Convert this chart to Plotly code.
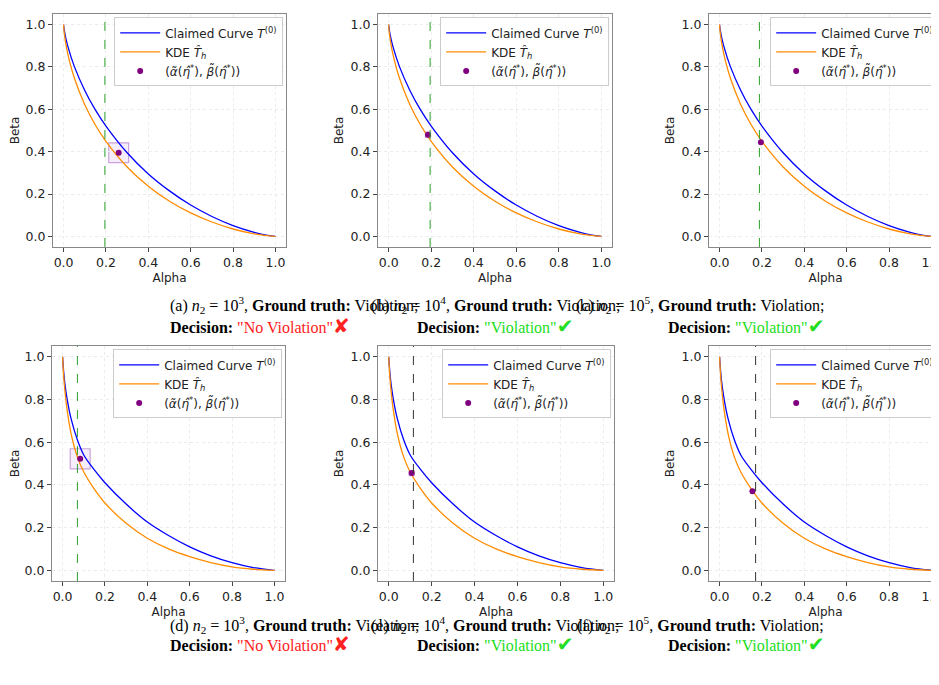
import plotly.graph_objects as go

W, H = 939, 685

# Curves (top row: panels a-c, bottom row: panels d-f)
alpha_top = [0, 0.001, 0.005, 0.01, 0.02, 0.05, 0.1, 0.15, 0.2, 0.3, 0.4, 0.5, 0.6, 0.7, 0.8, 0.9, 0.95, 1.0]
claimed_top = [1.0, 0.989, 0.963, 0.938, 0.897, 0.804, 0.689, 0.597, 0.521, 0.395, 0.295, 0.215, 0.148, 0.094, 0.051, 0.019, 0.007, 0.0]
kde_top = [1.0, 0.983, 0.946, 0.912, 0.861, 0.750, 0.622, 0.526, 0.449, 0.328, 0.237, 0.166, 0.111, 0.068, 0.035, 0.012, 0.0045, 0.0]

alpha_bot = [0, 0.005, 0.01, 0.02, 0.04, 0.07, 0.1, 0.15, 0.2, 0.3, 0.4, 0.5, 0.6, 0.7, 0.8, 0.9, 1.0]
claimed_bot = [1.0, 0.93, 0.88, 0.81, 0.71, 0.61, 0.54, 0.47, 0.41, 0.31, 0.226, 0.163, 0.11, 0.068, 0.036, 0.013, 0.0]
kde_bot = [1.0, 0.91, 0.85, 0.76, 0.64, 0.53, 0.46, 0.38, 0.315, 0.22, 0.15, 0.10, 0.064, 0.036, 0.016, 0.005, 0.0]

panels = ["a", "b", "c", "d", "e", "f"]
point_alpha = [0.26, 0.185, 0.195, 0.083, 0.107, 0.155]
point_beta = [0.395, 0.48, 0.445, 0.522, 0.455, 0.37]
eta_line = [0.195, 0.195, 0.188, 0.07, 0.115, 0.17]
line_colors = ["#2ca02c", "#2ca02c", "#2ca02c", "#2ca02c", "#333333", "#333333"]
box_half = [0.047, 0.012, 0.0, 0.047, 0.012, 0.0]
n2_exp = ["3", "4", "5", "3", "4", "5"]
decisions = ["No Violation", "Violation", "Violation", "No Violation", "Violation", "Violation"]
correct = [False, True, True, False, True, True]

# panel pixel boxes: (left, right, top, bottom)
boxes = [(45, 278, 6, 239), (370, 604, 6, 239), (701, 934, 6, 239),
         (44, 277, 338, 573), (370, 606, 338, 573), (701, 934, 338, 573)]
cap_x = [160, 487, 818, 160, 487, 818]
cap_y = [[297, 318], [297, 318], [297, 318], [630, 650], [630, 650], [630, 650]]

fig = go.Figure()
txt_font = dict(family="DejaVu Sans", size=12, color="#222")
serif = dict(family="Liberation Serif", size=16, color="black")

for i, p in enumerate(panels):
    sfx = "" if i == 0 else str(i + 1)
    xa, ya, lg = "x" + sfx, "y" + sfx, "legend" + sfx
    al = alpha_top if i < 3 else alpha_bot
    cl = claimed_top if i < 3 else claimed_bot
    kd = kde_top if i < 3 else kde_bot

    fig.add_trace(go.Scatter(x=al, y=cl, mode="lines", line=dict(color="blue", width=1.3, shape="spline"),
                             name="Claimed Curve <i>T</i><sup>(0)</sup>", xaxis=xa, yaxis=ya, legend=lg))
    fig.add_trace(go.Scatter(x=al, y=kd, mode="lines", line=dict(color="darkorange", width=1.3, shape="spline"),
                             name="KDE <i>T̂<sub>h</sub></i>", xaxis=xa, yaxis=ya, legend=lg))
    fig.add_trace(go.Scatter(x=[point_alpha[i]], y=[point_beta[i]], mode="markers",
                             marker=dict(color="purple", size=6),
                             name="(<i>α̃</i>(<i>η̂</i><sup>*</sup>), <i>β̃</i>(<i>η̂</i><sup>*</sup>))",
                             xaxis=xa, yaxis=ya, legend=lg))

    # vertical dashed threshold line spanning the panel height
    fig.add_trace(go.Scatter(x=[eta_line[i], eta_line[i]], y=[-0.05, 1.05], mode="lines",
                             line=dict(color=line_colors[i], width=1, dash="dash"),
                             showlegend=False, hoverinfo="skip", xaxis=xa, yaxis=ya))
    if box_half[i] > 0:
        h = box_half[i]
        fig.add_shape(type="rect", xref=xa, yref=ya, x0=point_alpha[i] - h, x1=point_alpha[i] + h,
                      y0=point_beta[i] - h, y1=point_beta[i] + h,
                      line=dict(color="rgba(190,140,210,0.8)", width=1.2),
                      fillcolor="rgba(200,160,230,0.18)", layer="below")

    l, r, t, b = boxes[i]
    axis_common = dict(range=[-0.05, 1.05], tickvals=[0, 0.2, 0.4, 0.6, 0.8, 1.0],
                       ticktext=["0.0", "0.2", "0.4", "0.6", "0.8", "1.0"],
                       tickfont=dict(family="DejaVu Sans", size=12.5, color="#222"),
                       showgrid=True, gridcolor="#ececec", griddash="dot", zeroline=False,
                       showline=True, linecolor="#888", mirror=True, ticks="outside",
                       ticklen=4, tickcolor="#444", automargin=False)
    fig.update_layout({
        "xaxis" + sfx: dict(axis_common, domain=[l / W, r / W], anchor=ya,
                            title=dict(text="Alpha", font=txt_font, standoff=4)),
        "yaxis" + sfx: dict(axis_common, domain=[1 - b / H, 1 - t / H], anchor=xa,
                            title=dict(text="Beta", font=txt_font, standoff=4)),
        lg: dict(x=r / W - 0.003, y=1 - t / H - 0.005, xanchor="right", yanchor="top",
                 xref="paper", yref="paper", bgcolor="rgba(255,255,255,0.9)", bordercolor="#cccccc",
                 borderwidth=1, font=txt_font, tracegroupgap=0, itemwidth=40),
    })

    fig.add_annotation(xref="paper", yref="paper", x=cap_x[i] / W, y=1 - cap_y[i][0] / H,
                       text=f"({p}) <i>n</i><sub>2</sub> = 10<sup>{n2_exp[i]}</sup>, <b>Ground truth:</b> Violation;",
                       showarrow=False, font=serif)
    col = "#22dd22" if correct[i] else "#ff2020"
    mark = "✔" if correct[i] else "✘"
    fig.add_annotation(xref="paper", yref="paper", x=cap_x[i] / W, y=1 - cap_y[i][1] / H,
                       text=f"<b>Decision:</b> <span style='color:{col}'>\"{decisions[i]}\"</span>"
                            f"<span style='color:{col};font-family:DejaVu Sans;font-size:20px'><b>{mark}</b></span>",
                       showarrow=False, font=serif)

fig.update_layout(width=W, height=H, margin=dict(l=0, r=0, t=0, b=0, autoexpand=False),
                  plot_bgcolor="white", paper_bgcolor="white", showlegend=True)

fig.write_html("out.html")
